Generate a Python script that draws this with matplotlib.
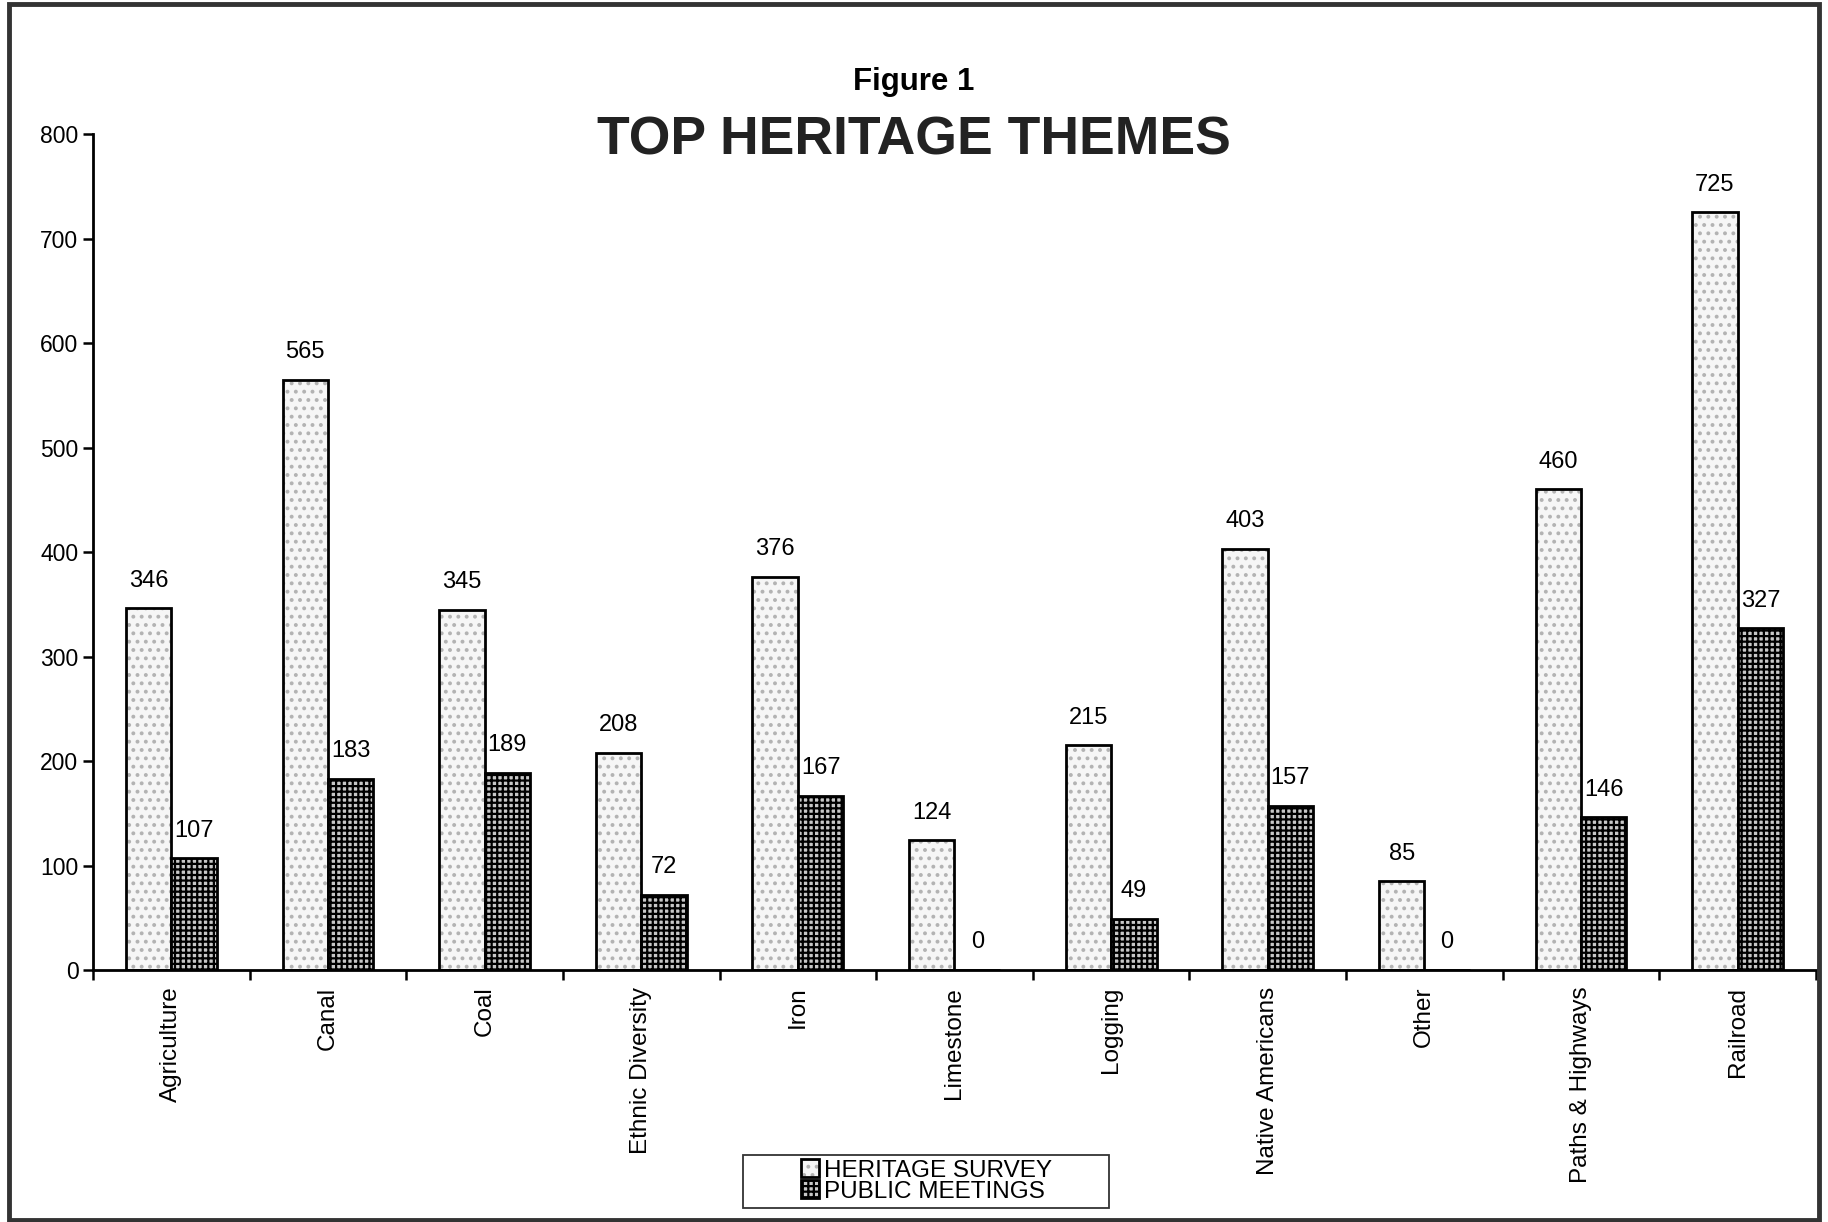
import matplotlib.pyplot as plt
import matplotlib.patches as mpatches
import numpy as np

# data
themes = ['Agriculture', 'Canal', 'Coal', 'Ethnic Diversity', 'Iron', 'Limestone',
          'Logging', 'Native Americans', 'Other', 'Paths & Highways', 'Railroad']
survey = [346, 565, 345, 208, 376, 124, 215, 403, 85, 460, 725]
meetings = [107, 183, 189, 72, 167, 0, 49, 157, 0, 146, 327]

plt.rcParams['font.family'] = ['Liberation Sans', 'DejaVu Sans']
plt.rcParams['hatch.linewidth'] = 1.6

fig = plt.figure(figsize=(18.28, 12.22), dpi=100)
ax = fig.add_axes([0.0509, 0.2062, 0.9425, 0.6841])

x = np.arange(len(themes))
w = 0.29
b1 = ax.bar(x - w / 2, survey, w, facecolor='#f6f6f6', edgecolor='black',
            linewidth=2, hatch='..', label='HERITAGE SURVEY')
b2 = ax.bar(x + w / 2, meetings, w, facecolor='#c8c8c8', edgecolor='black',
            linewidth=2, hatch='+++', label='PUBLIC MEETINGS')
for b in b1:
    b._hatch_color = (0.7, 0.7, 0.7, 1)

ax.bar_label(b1, padding=12, fontsize=17)
ax.bar_label(b2, padding=12, fontsize=17)

ax.set_xlim(-0.5, len(themes) - 0.5)
ax.set_ylim(0, 800)
ax.set_yticks(range(0, 801, 100))
ax.set_xticks(x)
ax.set_xticklabels(themes, rotation=90, fontsize=17.5)
ax.set_xticks(np.arange(-0.5, len(themes), 1), minor=True)
ax.tick_params(axis='x', which='major', length=0, pad=12)
ax.tick_params(axis='x', which='minor', length=7, width=1.8, direction='out')
ax.tick_params(axis='y', labelsize=16.5, length=7, width=1.8, direction='out')

for s in ['top', 'right']:
    ax.spines[s].set_visible(False)
for s in ['left', 'bottom']:
    ax.spines[s].set_linewidth(2)

fig.text(0.5, 0.933, 'Figure 1', ha='center', va='center', fontsize=22.5, fontweight='bold')
fig.text(0.5, 0.885, 'TOP HERITAGE THEMES', ha='center', va='center', fontsize=38.5,
         fontweight='bold', color='#222222')

fig.legend(loc='center', bbox_to_anchor=(0.507, 0.0336), fontsize=17.5,
           frameon=False, handlelength=0.75, handleheight=0.75, handletextpad=0.2,
           labelspacing=-0.05, borderpad=0, borderaxespad=0)
# legend box
fig.patches.append(mpatches.Rectangle((0.4065, 0.0115), 0.2002, 0.0433, transform=fig.transFigure,
                                      fill=False, edgecolor='#333333', linewidth=1.3))

# outer frame
fig.patches.append(mpatches.Rectangle((0.005, 0.002), 0.99, 0.995, transform=fig.transFigure,
                                      fill=False, edgecolor='#333333', linewidth=3.5))

fig.savefig('out.png', dpi=100)
